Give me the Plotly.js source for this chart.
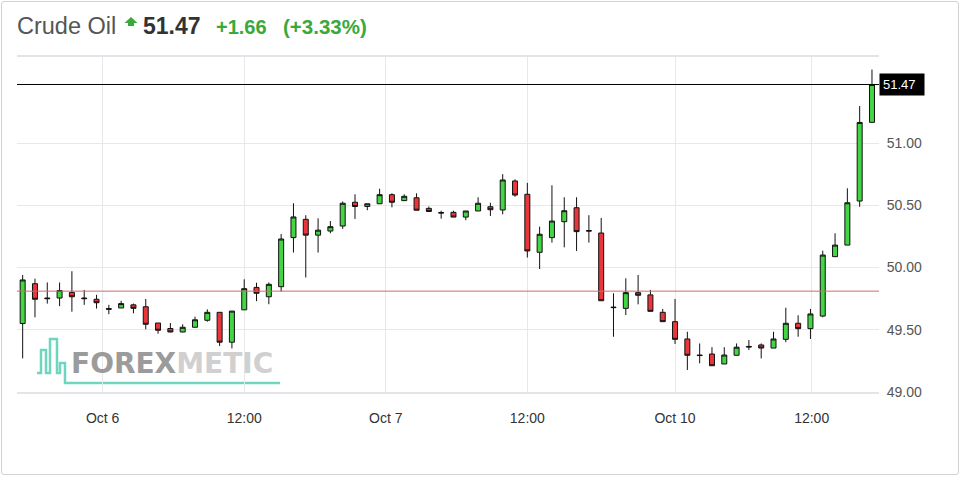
<!DOCTYPE html>
<html>
<head>
<meta charset="utf-8">
<script src="https://cdn.plot.ly/plotly-3.0.1.min.js"></script>
<style>
  html, body { margin:0; padding:0; background:#fff; }
  #wrap { position:relative; width:960px; height:477px; overflow:hidden; }
  #chart { position:absolute; left:0; top:0; width:960px; height:477px; }
  #frame { position:absolute; left:1px; top:1px; width:956px; height:472px; border:1px solid #d2d2d2; border-radius:3px; pointer-events:none; }
</style>
</head>
<body>
<div id="wrap"><div id="chart"></div><div id="frame"></div></div>
<script>
// ---- data (hourly candles) ----
const openP  = [49.55,49.87,49.755,49.755,49.80,49.755,49.745,49.67,49.675,49.70,
                49.685,49.554,49.51,49.482,49.52,49.576,49.64,49.40,49.66,49.84,
                49.765,49.846,50.24,50.387,50.26,50.293,50.333,50.524,50.49,50.512,
                50.585,50.537,50.56,50.475,50.442,50.443,50.405,50.454,50.488,50.462,
                50.695,50.588,50.122,50.24,50.368,50.48,50.297,50.277,49.682,49.672,
                49.798,49.78,49.64,49.565,49.426,49.297,49.305,49.225,49.295,49.366,
                49.378,49.353,49.423,49.552,49.509,49.61,50.087,50.18,50.534,51.166];
const highP  = [49.94,49.91,49.88,49.88,49.97,49.82,49.78,49.70,49.733,49.71,
                49.747,49.554,49.554,49.544,49.605,49.664,49.64,49.65,49.905,49.878,
                49.88,50.269,50.516,50.42,50.395,50.373,50.53,50.588,50.512,50.633,
                50.596,50.588,50.596,50.49,50.456,50.456,50.454,50.564,50.52,50.75,
                50.708,50.68,50.328,50.66,50.564,50.564,50.42,50.398,49.793,49.913,
                49.94,49.82,49.667,49.747,49.484,49.39,49.36,49.36,49.39,49.418,
                49.39,49.484,49.677,49.616,49.667,50.135,50.275,50.636,51.297,51.59];
const lowP   = [49.27,49.60,49.71,49.69,49.645,49.70,49.67,49.625,49.675,49.632,
                49.504,49.468,49.48,49.48,49.52,49.565,49.37,49.35,49.66,49.73,
                49.705,49.806,50.12,49.92,50.12,50.275,50.31,50.39,50.46,50.512,
                50.483,50.537,50.46,50.45,50.392,50.405,50.38,50.454,50.414,50.427,
                50.568,50.08,49.988,50.20,50.162,50.133,50.20,49.733,49.444,49.618,
                49.704,49.648,49.565,49.386,49.177,49.23,49.211,49.225,49.295,49.337,
                49.27,49.353,49.40,49.444,49.426,49.60,50.087,50.18,50.488,51.166];
const closeP = [49.90,49.745,49.75,49.815,49.765,49.75,49.717,49.665,49.71,49.672,
                49.544,49.496,49.482,49.52,49.58,49.64,49.40,49.65,49.83,49.793,
                49.865,50.229,50.406,50.26,50.30,50.328,50.516,50.49,50.512,50.585,
                50.524,50.572,50.46,50.45,50.438,50.405,50.454,50.516,50.464,50.703,
                50.582,50.133,50.267,50.373,50.456,50.288,50.293,49.733,49.678,49.798,
                49.777,49.648,49.565,49.423,49.295,49.293,49.211,49.297,49.36,49.362,
                49.353,49.426,49.552,49.509,49.627,50.10,50.18,50.52,51.165,51.47];
const xTickPos  = [6.5, 18, 29.5, 41, 53, 64.1];
const xTickText = ['Oct 6','12:00','Oct 7','12:00','Oct 10','12:00'];
const yTickVals = [49.0, 49.5, 50.0, 50.5, 51.0];
const lastPrice = 51.47;
const prevClose = 49.81;
const change = '+1.66';
const changePct = '(+3.33%)';
const instrument = 'Crude Oil';

// ---- layout geometry ----
const W = 960, H = 477, ML = 17, MR = 81, MT = 57, MB = 85;
const PW = W - ML - MR, PH = H - MT - MB;
const px = x => (x - ML) / PW;
const py = y => 1 - (y - MT) / PH;
const FONT = 'Liberation Sans, Arial, sans-serif';

const idx = openP.map((_, i) => i);

const trace = {
  type: 'candlestick',
  x: idx, open: openP, high: highP, low: lowP, close: closeP,
  increasing: { line: { color: '#111', width: 1 }, fillcolor: '#44d544' },
  decreasing: { line: { color: '#111', width: 1 }, fillcolor: '#e8363c' },
  whiskerwidth: 0,
  hoverinfo: 'skip',
  showlegend: false
};

function pathFrom(points) {
  return points.map((p, i) => (i ? 'L' : 'M') + px(p[0]).toFixed(5) + ',' + py(p[1]).toFixed(5)).join(' ');
}

const arrowPath = pathFrom([[131,17],[137.5,23],[134,23],[134,26],[128,26],[128,23],[124.5,23]]) + ' Z';
const logoPath = pathFrom([[37,373],[41,373],[41,350],[46,350],[46,373],[50,373],[50,339],[57,339],[57,373],[60,373],[60,363],[65,363],[65,383],[280,383]]);

const layout = {
  width: W, height: H,
  margin: { l: ML, r: MR, t: MT, b: MB, pad: 0 },
  paper_bgcolor: 'rgba(0,0,0,0)',
  plot_bgcolor: '#ffffff',
  font: { family: FONT, color: '#444' },
  boxgap: 0.42,
  showlegend: false,
  xaxis: {
    range: [-0.46, 69.57],
    tickvals: xTickPos, ticktext: xTickText,
    tickfont: { size: 14, color: '#333' },
    ticks: 'outside', ticklen: 12, tickcolor: 'rgba(0,0,0,0)',
    showgrid: true, gridcolor: '#e6e8ee', gridwidth: 1,
    showline: true, mirror: true, linecolor: '#e2e4ea', linewidth: 2,
    zeroline: false,
    rangeslider: { visible: false },
    fixedrange: true
  },
  yaxis: {
    side: 'right',
    range: [49.0, 49.0 + PH / 124.5],
    tickvals: yTickVals, ticktext: yTickVals.map(v => v.toFixed(2)),
    tickfont: { size: 14, color: '#555' },
    ticks: 'outside', ticklen: 4, tickcolor: 'rgba(0,0,0,0)',
    showgrid: true, gridcolor: '#e6e8ee', gridwidth: 1,
    showline: false,
    zeroline: false,
    fixedrange: true
  },
  shapes: [
    { type: 'path', xref: 'paper', yref: 'paper', path: logoPath,
      line: { color: '#70d5bf', width: 2.5 }, layer: 'below' },
    { type: 'line', xref: 'paper', yref: 'y', x0: 0, x1: 1, y0: prevClose, y1: prevClose,
      line: { color: '#d06a6a', width: 1 }, layer: 'above' },
    { type: 'line', xref: 'paper', yref: 'y', x0: 0, x1: 1, y0: lastPrice, y1: lastPrice,
      line: { color: '#000000', width: 1 }, layer: 'above' },
    { type: 'path', xref: 'paper', yref: 'paper', path: arrowPath,
      fillcolor: '#3aa83a', line: { width: 0 } }
  ],
  annotations: [
    { xref: 'paper', yref: 'paper', x: px(15), y: py(26), xanchor: 'left', yanchor: 'middle',
      text: instrument, showarrow: false, font: { family: FONT, size: 23.5, color: '#555' } },
    { xref: 'paper', yref: 'paper', x: px(141), y: py(26), xanchor: 'left', yanchor: 'middle',
      text: '<b>' + lastPrice.toFixed(2) + '</b>', showarrow: false, font: { family: FONT, size: 23, color: '#333' } },
    { xref: 'paper', yref: 'paper', x: px(214), y: py(27), xanchor: 'left', yanchor: 'middle',
      text: '<b>' + change + '</b>', showarrow: false, font: { family: FONT, size: 20, color: '#3aa83a' } },
    { xref: 'paper', yref: 'paper', x: px(281), y: py(27), xanchor: 'left', yanchor: 'middle',
      text: '<b>' + changePct + '</b>', showarrow: false, font: { family: FONT, size: 20.5, color: '#3aa83a' } },
    { xref: 'paper', yref: 'y', x: 1, y: lastPrice, xanchor: 'left', yanchor: 'middle',
      text: lastPrice.toFixed(2), showarrow: false, bgcolor: '#000', borderpad: 3,
      width: 38, height: 15, align: 'left',
      font: { family: FONT, size: 13, color: '#fff' } },
    { xref: 'paper', yref: 'paper', x: px(69), y: py(363), xanchor: 'left', yanchor: 'middle',
      text: '<span style="color:#9b9b9b">FOREX</span><span style="color:#d0d0d0">METIC</span>',
      showarrow: false, font: { family: 'DejaVu Sans, sans-serif', size: 28, weight: 'bold' } }
  ]
};

Plotly.newPlot('chart', [trace], layout, { staticPlot: true, displayModeBar: false });
</script>
</body>
</html>
